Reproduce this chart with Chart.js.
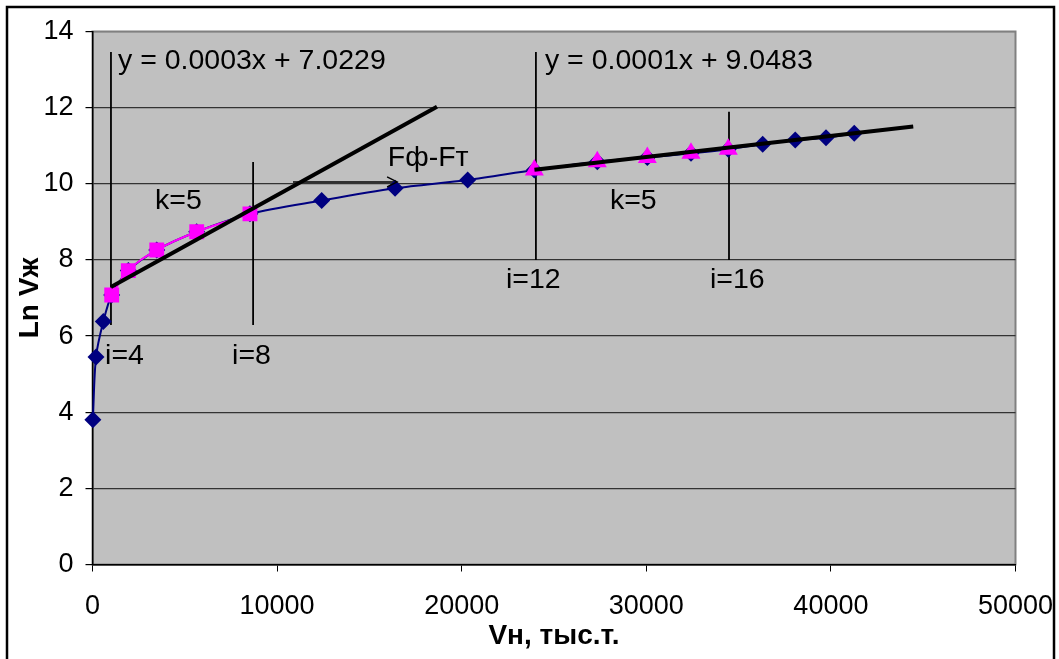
<!DOCTYPE html>
<html>
<head>
<meta charset="utf-8">
<script src="https://cdn.jsdelivr.net/npm/chart.js@4.4.0/dist/chart.umd.min.js"></script>
<style>
html, body { margin: 0; padding: 0; background: #fff; }
#wrap { width: 1059px; height: 659px; }
</style>
</head>
<body>
<div id="wrap"><canvas id="lnChart" width="1059" height="659"></canvas></div>
<script>
// все точки: Vн (тыс.т.) и Ln Vж
const vnAll = [20, 190, 585, 1040, 1940, 3480, 5645, 8530, 12415, 16390, 20325, 23935, 27345, 30055, 32420, 34440, 36305, 38070, 39735, 41265];
const lnAll = [3.80, 5.45, 6.38, 7.08, 7.72, 8.26, 8.74, 9.21, 9.56, 9.88, 10.10, 10.36, 10.58, 10.69, 10.80, 10.91, 11.04, 11.15, 11.21, 11.33];

// участок i=4..8
const vnSq = [1040, 1940, 3480, 5645, 8530];
const lnSq = [7.08, 7.72, 8.26, 8.74, 9.21];

// участок i=12..16
const vnTr = [23935, 27345, 30055, 32420, 34440];
const lnTr = [10.36, 10.58, 10.69, 10.80, 10.91];

// линии тренда y = a*x + b
const trend1 = { a: 0.000268, b: 7.0229, from: 1000, to: 18660 };
const trend2 = { a: 0.0000552, b: 9.0483, from: 23940, to: 44460 };

// вертикальные отметки i=4, i=8, i=12, i=16
const markX = [1000, 8700, 24020, 34480];
const markLo = [6.29, 6.29, 8.0, 8.0];
const markHi = [13.46, 10.57, 13.46, 11.89];

// стрелка Fф-Fт
const arrowX = [10860, 16500];
const arrowY = 10.05;

// подписи на поле графика
const noteText = ['y = 0.0003x + 7.0229', 'y = 0.0001x + 9.0483', 'k=5', 'Fф-Fт', 'k=5', 'i=4', 'i=8', 'i=12', 'i=16'];
const noteX = [1380, 24510, 3390, 16000, 28030, 680, 7560, 22400, 33450];
const noteY = [13.23, 13.23, 9.55, 10.68, 9.55, 5.48, 5.48, 7.47, 7.47];

const pts = (xs, ys) => xs.map((x, i) => ({ x: x, y: ys[i] }));
const lineOf = t => [{ x: t.from, y: t.a * t.from + t.b }, { x: t.to, y: t.a * t.to + t.b }];

const FONT = '"Liberation Sans", Arial, sans-serif';

// фон, рамка и область построения
const framePlugin = {
    id: 'frame',
    beforeDraw(chart) {
        const { ctx, chartArea: a } = chart;
        ctx.save();
        ctx.fillStyle = '#fff';
        ctx.fillRect(0, 0, chart.width, chart.height);
        ctx.fillStyle = '#c0c0c0';
        ctx.fillRect(a.left, a.top, a.right - a.left, a.bottom - a.top);
        ctx.strokeStyle = '#808080';
        ctx.lineWidth = 2;
        ctx.strokeRect(a.left, a.top, a.right - a.left, a.bottom - a.top);
        ctx.restore();
    },
    afterDatasetsDraw(chart) {
        const { ctx, scales: { x, y } } = chart;
        ctx.save();
        ctx.fillStyle = '#000';
        ctx.font = '28.5px ' + FONT;
        ctx.textAlign = 'left';
        ctx.textBaseline = 'middle';
        noteText.forEach((t, i) => {
            ctx.fillText(t, x.getPixelForValue(noteX[i]), y.getPixelForValue(noteY[i]));
        });
        // наконечник стрелки
        const ax = x.getPixelForValue(arrowX[1]);
        const ay = y.getPixelForValue(arrowY);
        ctx.strokeStyle = '#000';
        ctx.lineWidth = 1.5;
        ctx.beginPath();
        ctx.moveTo(ax - 10, ay - 5);
        ctx.lineTo(ax, ay);
        ctx.lineTo(ax - 10, ay + 5);
        ctx.stroke();
        ctx.restore();
    },
    afterDraw(chart) {
        // внешняя рамка поверх подписей (обрезает 50000 справа)
        const { ctx } = chart;
        ctx.save();
        ctx.fillStyle = '#fff';
        ctx.fillRect(1055, 0, chart.width - 1055, chart.height);
        ctx.strokeStyle = '#000';
        ctx.lineWidth = 2.5;
        ctx.strokeRect(7, 7, 1047, 720);
        ctx.restore();
    }
};

const datasets = [
    {
        data: lineOf(trend1), borderColor: '#000', borderWidth: 4,
        pointRadius: 0, order: 0
    },
    {
        data: lineOf(trend2), borderColor: '#000', borderWidth: 4,
        pointRadius: 0, order: 0
    },
    {
        data: pts(vnSq, lnSq), borderColor: '#ff00ff', backgroundColor: '#ff00ff',
        borderWidth: 2, tension: 0.4, pointStyle: 'rect', pointRadius: 10.5,
        pointBorderWidth: 0, order: 1
    },
    {
        data: pts(vnTr, lnTr), showLine: false, backgroundColor: '#ff00ff',
        borderColor: '#ff00ff', pointStyle: 'triangle', pointRadius: 11,
        pointBorderWidth: 0, order: 1
    },
    {
        data: pts(vnAll, lnAll), borderColor: '#000080', backgroundColor: '#000080',
        borderWidth: 2, tension: 0.3, pointStyle: 'rectRot', pointRadius: 8.5,
        pointBorderWidth: 0, order: 2, clip: false
    },
    {
        data: pts(arrowX, [arrowY, arrowY]), borderColor: '#000', borderWidth: 1.5,
        pointRadius: 0, order: 3
    }
];

markX.forEach((mx, i) => {
    datasets.push({
        data: [{ x: mx, y: markLo[i] }, { x: mx, y: markHi[i] }],
        borderColor: '#000', borderWidth: 1.8, pointRadius: 0, order: 3
    });
});

new Chart(document.getElementById('lnChart'), {
    type: 'line',
    data: { datasets: datasets },
    plugins: [framePlugin],
    options: {
        responsive: false,
        animation: false,
        devicePixelRatio: 1,
        layout: { padding: { left: 0, top: 31.5, right: 43.5, bottom: 0 } },
        plugins: { legend: { display: false }, tooltip: { enabled: false } },
        scales: {
            x: {
                type: 'linear', min: 0, max: 50000,
                afterFit: s => { s.height = 94.5; s.paddingLeft = 0; s.paddingRight = 0; },
                ticks: {
                    stepSize: 10000, color: '#000', padding: 19,
                    font: { family: FONT, size: 27 },
                    callback: v => String(v)
                },
                grid: { drawOnChartArea: false, drawTicks: true, tickLength: 7, tickColor: '#000' },
                border: { color: '#000', width: 1.5 },
                title: {
                    display: true, text: 'Vн, тыс.т.', color: '#000',
                    font: { family: FONT, size: 28, weight: 'bold' },
                    padding: { top: 0, bottom: 6 }
                }
            },
            y: {
                min: 0, max: 14,
                afterFit: s => { s.width = 92.5; s.paddingTop = 0; s.paddingBottom = 0; },
                ticks: {
                    stepSize: 2, color: '#000', padding: 12,
                    font: { family: FONT, size: 27 }
                },
                grid: {
                    color: c => (c.tick && c.tick.value === 14) ? '#808080' : '#333',
                    lineWidth: 1.2, tickLength: 7, tickColor: '#000'
                },
                border: { color: '#000', width: 1.5 },
                title: {
                    display: true, text: 'Ln Vж', color: '#000',
                    font: { family: FONT, size: 28, weight: 'bold' },
                    padding: { top: 13, bottom: 0 }
                }
            }
        }
    }
});
</script>
</body>
</html>
